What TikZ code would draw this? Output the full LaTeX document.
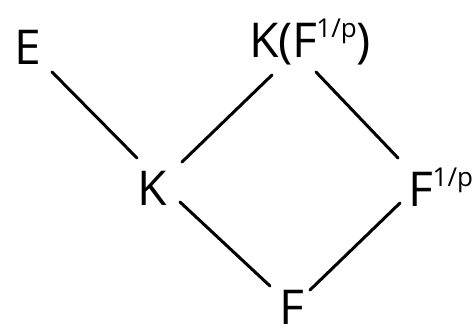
\documentclass[tikz,border=0pt]{standalone}
\usepackage{fontspec}
\setmainfont{Open Sans}
\newcommand{\supfrac}{\raisebox{0.42em}{\fontsize{26}{28}\selectfont\kern-1pt 1/p}}
\begin{document}
\begin{tikzpicture}[x=1pt,y=1pt,
  lbl/.style={inner sep=0pt, font=\fontsize{48}{54}\selectfont},
  edge/.style={line width=3pt, line cap=round}]
\useasboundingbox (0,0) rectangle (476,-334);
\node[lbl] (E) at (28,-47) {E};
\node[lbl] (KF) at (310,-42) {K(F\supfrac)};
\node[lbl] (K) at (152,-188) {K};
\node[lbl] (Fp) at (441,-187) {F\supfrac};
\node[lbl] (F) at (292,-307) {F};
\draw[edge] ([shift={(24,-25)}]E.center) -- ([shift={(-15,30)}]K.center);
\draw[edge] ([shift={(30,26)}]K.center) -- ([shift={(-38,-33)}]KF.center);
\draw[edge] ([shift={(6,-30)}]KF.center) -- ([shift={(-43,29)}]Fp.center);
\draw[edge] ([shift={(28,-14)}]K.center) -- ([shift={(-22,21)}]F.center);
\draw[edge] ([shift={(-41,-16)}]Fp.center) -- ([shift={(18,17)}]F.center);
\end{tikzpicture}
\end{document}
